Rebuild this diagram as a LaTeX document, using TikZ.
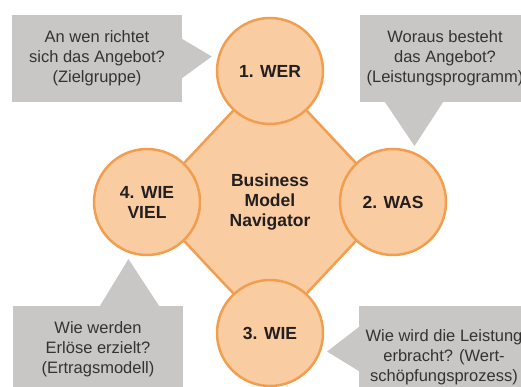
\documentclass[tikz,border=0pt]{standalone}
\usepackage{fontspec}
\setmainfont{Liberation Sans}
\usepackage{xcolor}
\usepackage{tikz}
\usetikzlibrary{shapes.geometric, calc}

\definecolor{navfill}{RGB}{250,204,161}
\definecolor{navline}{RGB}{242,158,79}
\definecolor{navtext}{RGB}{35,31,32}
\definecolor{boxgray}{RGB}{200,199,198}
\definecolor{boxtext}{RGB}{51,51,51}

\begin{document}
\begin{tikzpicture}[x=1pt, y=1pt, node distance=131pt]
    % Define the styles for the nodes
    \tikzstyle{hub} = [diamond, draw=navline, line width=2.5pt, fill=navfill, minimum width=246pt, minimum height=262pt, inner sep=0pt, align=center, text=navtext, font=\fontsize{17.5}{20}\selectfont\bfseries]
    \tikzstyle{stage} = [circle, draw=navline, line width=2.5pt, fill=navfill, minimum size=106pt, inner sep=0pt, align=center, text=navtext, font=\fontsize{17.5}{20}\selectfont\bfseries]
    \tikzstyle{question} = [rectangle, fill=boxgray, minimum width=170pt, inner sep=0pt, align=center, text=boxtext, font=\fontsize{16.5}{20}\selectfont]
    \tikzstyle{pointer} = [fill=boxgray]

    \useasboundingbox (0,0) rectangle (521,387);
    \clip (0,0) rectangle (521,387);

    % Place the diamond and the four circles
    \node [hub] (nav) at (270,185) {Business\\Model\\Navigator};
    \node [stage, above of=nav] (wer) {1. WER};
    \node [stage, right of=nav, node distance=123pt] (was) {2. WAS};
    \node [stage, below of=nav] (wie) {3. WIE};
    \node [stage, left of=nav, node distance=123pt] (viel) {4. WIE\\VIEL};

    % Place the question boxes
    \node [question, minimum height=87pt] (ziel) at (97,328.5) {An wen richtet\\sich das Angebot?\\(Zielgruppe)};
    \node [question, minimum height=87pt] (leistung) at (445,328.5) {Woraus besteht\\das Angebot?\\(Leistungsprogramm)};
    \node [question, minimum height=86pt] (ertrag) at (98,38) {Wie werden\\Erlöse erzielt?\\(Ertragsmodell)};
    \node [question, minimum height=102pt] (wert) at (444,30) {Wie wird die Leistung\\erbracht? (Wert-\\schöpfungsprozess)};

    % Point the boxes at their circles
    \fill [pointer] ([yshift=19.5pt]ziel.east) -- ($(wer)+(166:60)$) -- ([yshift=-19.5pt]ziel.east) -- cycle;
    \fill [pointer] ([xshift=-60pt]leistung.south) -- ($(was)+(69:60)$) -- ([xshift=-2pt]leistung.south) -- cycle;
    \fill [pointer] ([xshift=2pt]ertrag.north) -- ($(viel)+(252:60)$) -- ([xshift=61pt]ertrag.north) -- cycle;
    \fill [pointer] ([yshift=30pt]wert.west) -- ($(wie)+(342:60)$) -- ([yshift=-14pt]wert.west) -- cycle;

\end{tikzpicture}
\end{document}
